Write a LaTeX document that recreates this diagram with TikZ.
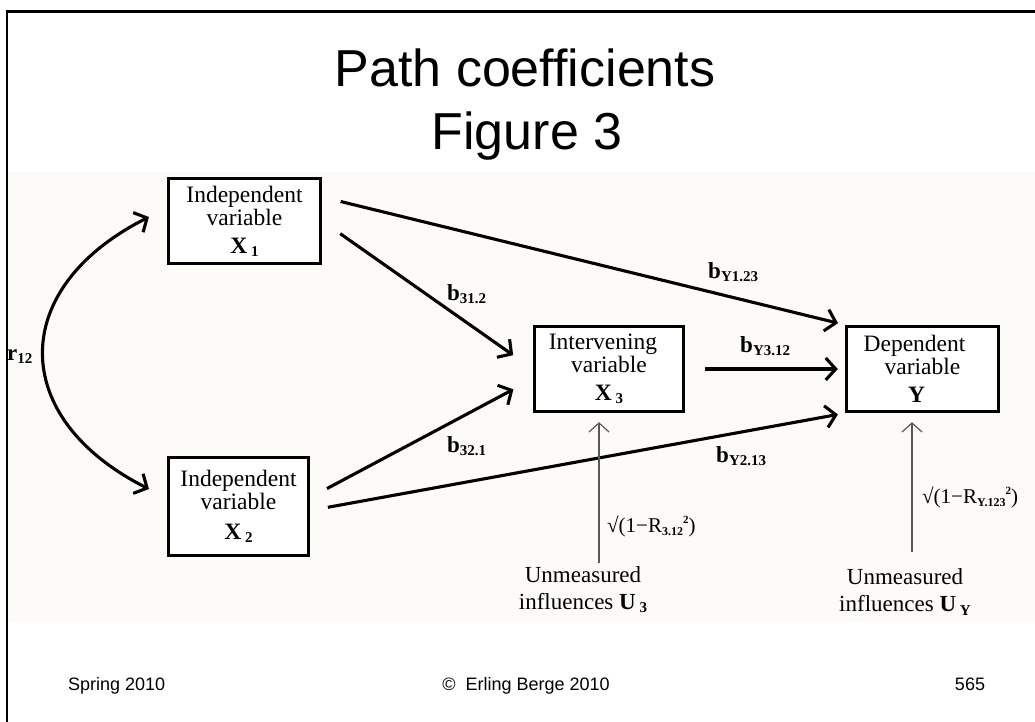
\documentclass[tikz,border=0pt]{standalone}
\usepackage{fontspec}
\setmainfont{Liberation Serif}
\newfontfamily\slidefont{Liberation Sans}
\usetikzlibrary{arrows.meta}

% bold coefficient with a lowered bold index
\newcommand{\coefb}[2]{\textbf{#1}\raisebox{-0.35ex}{\fontsize{15}{15}\selectfont\bfseries #2}}
% variable name in a box
\newcommand{\varname}[2]{\textbf{#1}\,\raisebox{-0.3ex}{\fontsize{15}{15}\selectfont\bfseries #2}}
% residual path weight
\newcommand{\resid}[1]{\textbf{√}(1−R\raisebox{-0.4ex}{\fontsize{12}{12}\selectfont\bfseries #1}\raisebox{0.9ex}{\fontsize{11}{11}\selectfont\bfseries 2})}

\begin{document}
\begin{tikzpicture}[x=1pt, y=-1pt,
    varbox/.style={draw, line width=3.4pt, fill=white, align=center, inner sep=0pt,
        font=\fontsize{23.5}{23}\selectfont},
    patharrow/.style={line width=3.1pt, -{Straight Barb[length=10pt,width=22pt]}},
    errarrow/.style={draw=black!65, line width=1.2pt, -{Straight Barb[length=9pt,width=20pt]}},
    coeflabel/.style={anchor=base west, inner sep=0pt, font=\fontsize{23}{23}\selectfont},
    notelabel/.style={align=center, inner sep=0pt, font=\fontsize{23}{27}\selectfont},
    slidetext/.style={font=\slidefont\fontsize{18}{18}\selectfont, inner sep=0pt}]
    \definecolor{paper}{RGB}{252,251,248}
    \useasboundingbox (0,0) rectangle (1035,722);

    % slide frame and the figure area
    \fill[paper] (8,172) rectangle (1035,622);
    \draw[line width=2.5pt] (7,740) -- (7,11.5) -- (1040,11.5);

    % heading
    \node[font=\slidefont\fontsize{52}{52}\selectfont, anchor=base, inner sep=0pt] (title) at (525,87) {Path coefficients};
    \node[font=\slidefont\fontsize{52}{52}\selectfont, anchor=base, inner sep=0pt] (subtitle) at (527,150) {Figure 3};

    % variables
    \node[varbox, minimum width=152pt, minimum height=85pt] (x1) at (244.5,221) {Independent\\variable\\[5pt]\varname{X}{1}};
    \node[varbox, minimum width=140pt, minimum height=98pt] (x2) at (238.5,506.5) {Independent\\variable\\[7pt]\varname{X}{2}};
    \node[varbox, minimum width=149pt, minimum height=85pt] (x3) at (609,369) {Intervening\hspace*{12pt}\\variable\\[5pt]\varname{X}{3}};
    \node[varbox, minimum width=152pt, minimum height=85pt] (y) at (922.5,369) {Dependent\hspace*{16pt}\\variable\hspace*{10pt}\\[5pt]\textbf{Y}\hspace*{12pt}};

    % paths
    \draw[patharrow, shorten <=19pt, shorten >=7pt] ([yshift=24pt]x1.east) -- (y.north west);
    \draw[patharrow, shorten <=22pt, shorten >=24pt] (x1.east) -- (x3.west);
    \draw[patharrow, shorten <=19pt, shorten >=22pt] ([yshift=9pt]x2.east) -- ([yshift=-10pt]x3.west);
    \draw[patharrow, shorten <=18pt, shorten >=7pt] ([yshift=-4pt]x2.east) -- (y.south west);
    \draw[patharrow, shorten <=20pt, shorten >=7pt] (x3.east) -- (y.west);
    \draw[patharrow, {Straight Barb[length=10pt,width=22pt]}-{Straight Barb[length=10pt,width=22pt]},
        shorten <=20pt, shorten >=20pt]
        ([yshift=13pt]x1.west) .. controls (8,288) and (8,418) .. ([yshift=8.5pt]x2.west);

    % path coefficients
    \node[coeflabel] (r12) at (7,360) {\coefb{r}{12}};
    \node[coeflabel] (b312) at (447,300) {\coefb{b}{31.2}};
    \node[coeflabel] (by123) at (708,278) {\coefb{b}{Y1.23}};
    \node[coeflabel] (by312) at (740,352) {\coefb{b}{Y3.12}};
    \node[coeflabel] (b321) at (447,452) {\coefb{b}{32.1}};
    \node[coeflabel] (by213) at (716,462) {\coefb{b}{Y2.13}};

    % residual influences
    \coordinate (u3) at (599,563);
    \coordinate (uy) at (912,552);
    \draw[errarrow, shorten >=9pt] (u3) -- (u3 |- x3.south);
    \draw[errarrow, shorten >=9pt] (uy) -- (uy |- y.south);
    \node[coeflabel, font=\fontsize{21}{21}\selectfont] (e3) at (607,532) {\resid{3.12}};
    \node[coeflabel, font=\fontsize{21}{21}\selectfont] (ey) at (922,503) {\resid{Y.123}};
    \node[notelabel] (u3txt) at (583,590) {Unmeasured\\influences \varname{U}{3}};
    \node[notelabel] (uytxt) at (905,592) {Unmeasured\\influences \varname{U}{Y}};

    % footer
    \node[slidetext, anchor=base west] (season) at (68,690) {Spring 2010};
    \node[slidetext, anchor=base] (owner) at (526,690) {©\ \ Erling Berge 2010};
    \node[slidetext, anchor=base] (page) at (970,690) {565};
\end{tikzpicture}
\end{document}
